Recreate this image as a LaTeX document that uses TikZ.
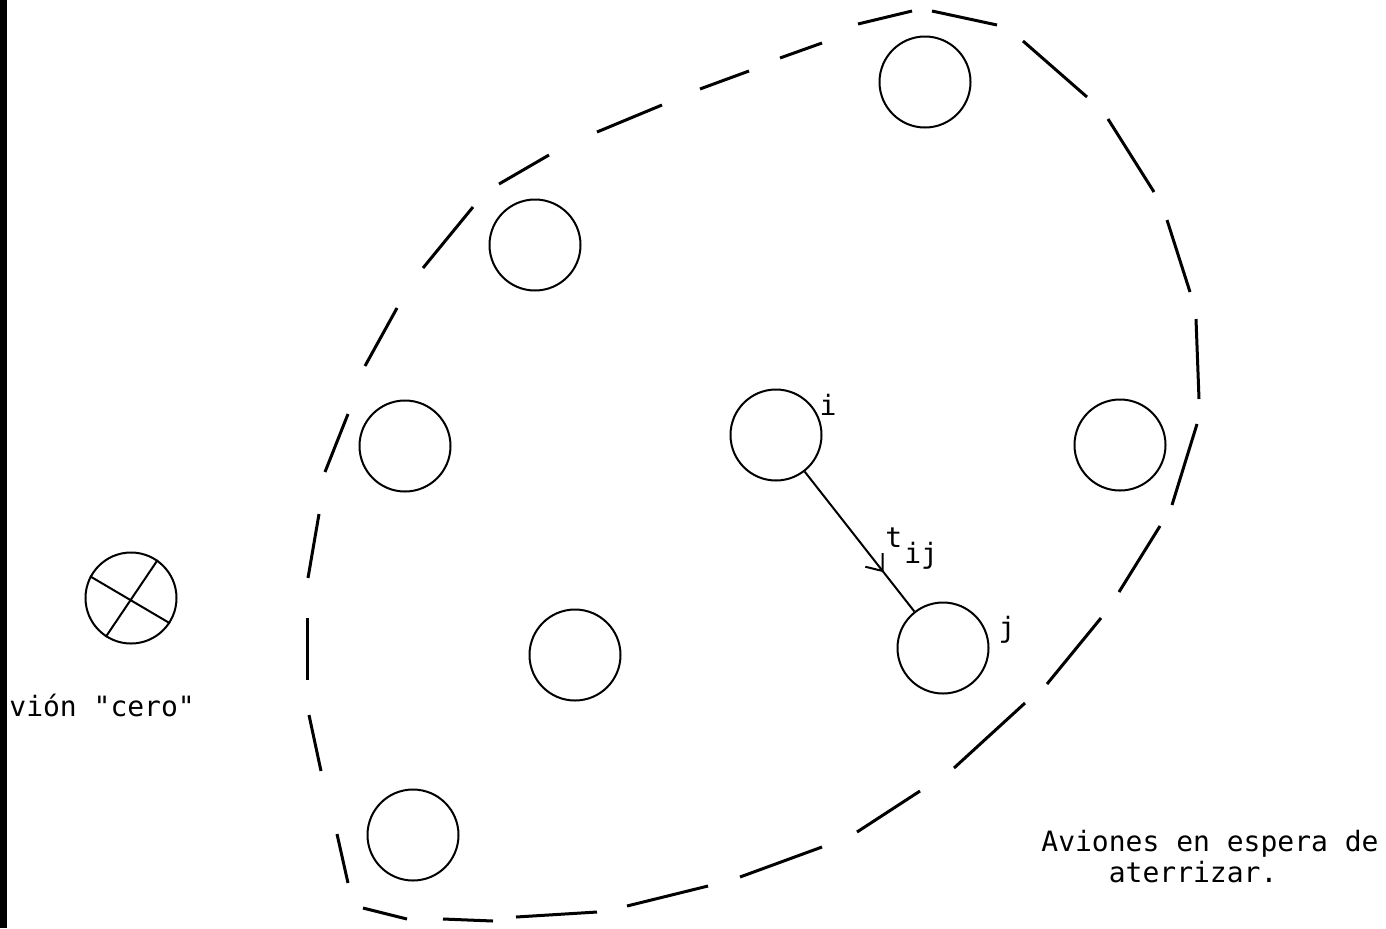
\documentclass[tikz,border=0pt]{standalone}
\usepackage{fontspec}
\setmonofont{DejaVu Sans Mono}
\usetikzlibrary{arrows.meta,decorations.markings}

\tikzstyle{plane} = [circle,draw,line width=1pt,minimum size=45.5pt,inner sep=0pt]
\tikzstyle{every node}=[font=\ttfamily\fontsize{14}{15.5}\selectfont]
\tikzstyle{tag} = [inner sep=0pt]
\tikzstyle{border} = [line width=1.5pt]

\begin{document}
\begin{tikzpicture}[x=0.5pt,y=-0.5pt]
	\useasboundingbox (0,0) rectangle (1386,928);
	\fill (0,0) rectangle (7,928);
	% aviones en espera
	\node[plane] (A) at (925,82) {};
	\node[plane] (B) at (535,245) {};
	\node[plane] (C) at (405,446) {};
	\node[plane] (I) at (776,435) {};
	\node[plane] (D) at (1120,445) {};
	\node[plane] (E) at (575,655) {};
	\node[plane] (J) at (943,648) {};
	\node[plane] (F) at (413,835) {};
	\node[tag,anchor=base] at (828,415) {i};
	\node[tag,anchor=base] at (1007,637) {j};
	\node[tag,anchor=base west] at (885,547) {t\hspace{1pt}\raisebox{-8pt}{ij}};
	\draw[line width=1pt,postaction=decorate,decoration={markings,
	  mark=at position 0.72 with {\arrow{Straight Barb[length=7pt,width=11pt]}}}] (I) -- (J);
	% avion cero
	\node[plane] (Z) at (131,598) {};
	\draw[line width=1pt] (Z.152) -- (Z.327);
	\draw[line width=1pt] (Z.55) -- (Z.237);
	\node[tag,anchor=base west] at (9,716) {vión "cero"};
	% frontera
	\foreach \xa/\ya/\xb/\yb in {858/24/912/11, 932/11/997/25, 1023/41/1087/97,
	  1108/119/1154/192, 1167/220/1190/292, 1196/319/1199/399, 1197/424/1172/505,
	  1160/526/1119/592, 1101/618/1047/684, 1025/703/954/768, 920/791/857/832,
	  822/847/740/877, 708/886/627/906, 597/912/516/917, 493/921/443/919,
	  407/919/363/908, 348/883/337/834, 321/771/309/715, 307/680/307/618,
	  308/578/319/514, 325/472/348/414, 365/366/397/308, 423/268/473/207,
	  499/184/549/155, 597/132/662/105, 700/89/749/71, 780/58/822/43}
	{\draw[border] (\xa,\ya) -- (\xb,\yb);}
	\node[tag,anchor=base west,align=left] at (1041,882)
	  {Aviones en espera de\\\phantom{Avio}aterrizar.};
\end{tikzpicture}
\end{document}
